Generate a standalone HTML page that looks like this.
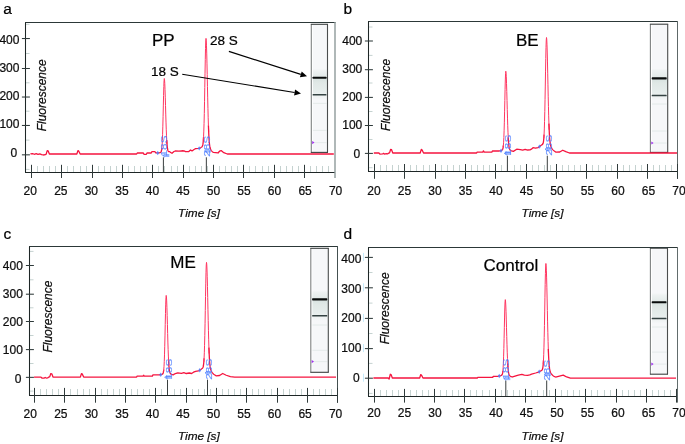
<!DOCTYPE html>
<html><head><meta charset="utf-8"><style>
html,body{margin:0;padding:0;background:#fff;}
svg{display:block;will-change:transform;}
text{font-family:"Liberation Sans", sans-serif;}
.k{stroke:#000;stroke-width:0.22px;}
</style></head><body>
<svg width="685" height="444" viewBox="0 0 685 444">
<text x="3.3" y="14.2" font-size="15.5" fill="#000" class="k">a</text>
<defs><linearGradient id="ga" x1="0" y1="24.3" x2="0" y2="152.4" gradientUnits="userSpaceOnUse"><stop offset="0" stop-color="#f6f7f9"/><stop offset="0.3474" stop-color="#f6f7f9"/><stop offset="0.3630" stop-color="#eef2f2"/><stop offset="0.4020" stop-color="#e4ebea"/><stop offset="0.4294" stop-color="#d9e3e1"/><stop offset="0.4567" stop-color="#e0e8e6"/><stop offset="0.5269" stop-color="#e6edec"/><stop offset="0.5582" stop-color="#edf1f1"/><stop offset="0.5894" stop-color="#f6f7f9"/><stop offset="1" stop-color="#f6f7f9"/></linearGradient></defs>
<rect x="311.3" y="24.3" width="16.19999999999999" height="128.1" fill="url(#ga)"/>
<line x1="312.3" x2="326.5" y1="103.4" y2="103.4" stroke="#dfe7e6" stroke-width="0.8"/>
<line x1="312.3" x2="326.5" y1="130.4" y2="130.4" stroke="#dfe7e6" stroke-width="0.8"/>
<line x1="312.3" x2="326.5" y1="142.6" y2="142.6" stroke="#dfe7e6" stroke-width="0.8"/>
<line x1="312.40000000000003" x2="312.40000000000003" y1="24.3" y2="152.4" stroke="#ffffff" stroke-width="1"/>
<rect x="312.6" y="76.75" width="13.899999999999988" height="2.1" rx="0.6" fill="#080b0b"/>
<rect x="312.6" y="94.05" width="13.899999999999988" height="1.5" rx="0.5" fill="#344242"/>
<line x1="311.3" x2="311.3" y1="24.3" y2="152.4" stroke="#7f8282" stroke-width="1.1"/>
<line x1="327.5" x2="327.5" y1="24.3" y2="152.4" stroke="#4a4d4d" stroke-width="1.1"/>
<line x1="310.8" x2="328.0" y1="24.3" y2="24.3" stroke="#3c4040" stroke-width="1.1"/>
<line x1="310.8" x2="328.0" y1="152.4" y2="152.4" stroke="#3c4040" stroke-width="1.1"/>
<path d="M312.2,141.0 L314.5,142.6 L312.2,144.2 Z" fill="#a030f0"/>
<line x1="26.0" x2="29.5" y1="169.40" y2="169.40" stroke="#c5d2d0" stroke-width="1"/>
<line x1="26.0" x2="29.5" y1="140.10" y2="140.10" stroke="#c5d2d0" stroke-width="1"/>
<line x1="26.0" x2="29.5" y1="111.20" y2="111.20" stroke="#c5d2d0" stroke-width="1"/>
<line x1="26.0" x2="29.5" y1="82.80" y2="82.80" stroke="#c5d2d0" stroke-width="1"/>
<line x1="26.0" x2="29.5" y1="53.50" y2="53.50" stroke="#c5d2d0" stroke-width="1"/>
<line x1="26.0" x2="29.5" y1="24.30" y2="24.30" stroke="#c5d2d0" stroke-width="1"/>
<line x1="37.50" x2="37.50" y1="166.0" y2="172.5" stroke="#c5d2d0" stroke-width="1"/>
<line x1="43.50" x2="43.50" y1="166.0" y2="172.5" stroke="#c5d2d0" stroke-width="1"/>
<line x1="49.50" x2="49.50" y1="166.0" y2="172.5" stroke="#c5d2d0" stroke-width="1"/>
<line x1="55.50" x2="55.50" y1="166.0" y2="172.5" stroke="#c5d2d0" stroke-width="1"/>
<line x1="67.50" x2="67.50" y1="166.0" y2="172.5" stroke="#c5d2d0" stroke-width="1"/>
<line x1="73.50" x2="73.50" y1="166.0" y2="172.5" stroke="#c5d2d0" stroke-width="1"/>
<line x1="80.50" x2="80.50" y1="166.0" y2="172.5" stroke="#c5d2d0" stroke-width="1"/>
<line x1="86.50" x2="86.50" y1="166.0" y2="172.5" stroke="#c5d2d0" stroke-width="1"/>
<line x1="98.50" x2="98.50" y1="166.0" y2="172.5" stroke="#c5d2d0" stroke-width="1"/>
<line x1="104.50" x2="104.50" y1="166.0" y2="172.5" stroke="#c5d2d0" stroke-width="1"/>
<line x1="110.50" x2="110.50" y1="166.0" y2="172.5" stroke="#c5d2d0" stroke-width="1"/>
<line x1="116.50" x2="116.50" y1="166.0" y2="172.5" stroke="#c5d2d0" stroke-width="1"/>
<line x1="128.50" x2="128.50" y1="166.0" y2="172.5" stroke="#c5d2d0" stroke-width="1"/>
<line x1="134.50" x2="134.50" y1="166.0" y2="172.5" stroke="#c5d2d0" stroke-width="1"/>
<line x1="140.50" x2="140.50" y1="166.0" y2="172.5" stroke="#c5d2d0" stroke-width="1"/>
<line x1="146.50" x2="146.50" y1="166.0" y2="172.5" stroke="#c5d2d0" stroke-width="1"/>
<line x1="158.50" x2="158.50" y1="166.0" y2="172.5" stroke="#c5d2d0" stroke-width="1"/>
<line x1="164.50" x2="164.50" y1="166.0" y2="172.5" stroke="#c5d2d0" stroke-width="1"/>
<line x1="171.50" x2="171.50" y1="166.0" y2="172.5" stroke="#c5d2d0" stroke-width="1"/>
<line x1="177.50" x2="177.50" y1="166.0" y2="172.5" stroke="#c5d2d0" stroke-width="1"/>
<line x1="189.50" x2="189.50" y1="166.0" y2="172.5" stroke="#c5d2d0" stroke-width="1"/>
<line x1="195.50" x2="195.50" y1="166.0" y2="172.5" stroke="#c5d2d0" stroke-width="1"/>
<line x1="201.50" x2="201.50" y1="166.0" y2="172.5" stroke="#c5d2d0" stroke-width="1"/>
<line x1="207.50" x2="207.50" y1="166.0" y2="172.5" stroke="#c5d2d0" stroke-width="1"/>
<line x1="219.50" x2="219.50" y1="166.0" y2="172.5" stroke="#c5d2d0" stroke-width="1"/>
<line x1="225.50" x2="225.50" y1="166.0" y2="172.5" stroke="#c5d2d0" stroke-width="1"/>
<line x1="231.50" x2="231.50" y1="166.0" y2="172.5" stroke="#c5d2d0" stroke-width="1"/>
<line x1="237.50" x2="237.50" y1="166.0" y2="172.5" stroke="#c5d2d0" stroke-width="1"/>
<line x1="249.50" x2="249.50" y1="166.0" y2="172.5" stroke="#c5d2d0" stroke-width="1"/>
<line x1="255.50" x2="255.50" y1="166.0" y2="172.5" stroke="#c5d2d0" stroke-width="1"/>
<line x1="262.50" x2="262.50" y1="166.0" y2="172.5" stroke="#c5d2d0" stroke-width="1"/>
<line x1="268.50" x2="268.50" y1="166.0" y2="172.5" stroke="#c5d2d0" stroke-width="1"/>
<line x1="280.50" x2="280.50" y1="166.0" y2="172.5" stroke="#c5d2d0" stroke-width="1"/>
<line x1="286.50" x2="286.50" y1="166.0" y2="172.5" stroke="#c5d2d0" stroke-width="1"/>
<line x1="292.50" x2="292.50" y1="166.0" y2="172.5" stroke="#c5d2d0" stroke-width="1"/>
<line x1="298.50" x2="298.50" y1="166.0" y2="172.5" stroke="#c5d2d0" stroke-width="1"/>
<line x1="310.50" x2="310.50" y1="166.0" y2="172.5" stroke="#c5d2d0" stroke-width="1"/>
<line x1="316.50" x2="316.50" y1="166.0" y2="172.5" stroke="#c5d2d0" stroke-width="1"/>
<line x1="322.50" x2="322.50" y1="166.0" y2="172.5" stroke="#c5d2d0" stroke-width="1"/>
<line x1="328.50" x2="328.50" y1="166.0" y2="172.5" stroke="#c5d2d0" stroke-width="1"/>
<path d="M30.39,153.97 L32.51,153.54 L34.34,154.26 L36.16,153.68 L37.98,154.41 L39.80,153.83 L41.62,154.55 L43.44,154.99 L45.27,154.70 L46.18,154.12 L47.21,150.63 L48.18,150.92 L49.39,154.00 L76.84,154.00 L77.93,150.63 L78.66,150.92 L80.18,154.00 L136.65,154.00 L137.26,152.98 L143.33,152.98 L143.94,154.29 L146.36,154.29 L146.97,152.98 L151.22,152.98 L151.83,151.68 L154.87,151.68 L155.78,152.95 L157.01,152.94 L157.26,152.94 L157.50,152.93 L157.74,152.93 L157.99,152.92 L158.23,152.90 L158.47,152.89 L158.71,152.87 L158.81,152.86 L158.96,152.84 L159.20,152.81 L159.44,152.77 L159.69,152.72 L159.93,152.66 L160.17,152.59 L160.42,152.49 L160.63,152.36 L160.66,152.34 L160.90,152.10 L161.14,151.71 L161.39,151.04 L161.63,149.89 L161.87,147.99" fill="none" stroke="#f5143f" stroke-width="1.3" stroke-linejoin="round"/>
<path d="M161.63,149.89 L161.87,147.99 L162.12,144.98 L162.36,140.51 L162.60,134.28 L162.84,126.19 L163.09,116.51 L163.33,105.92 L163.57,95.53 L163.82,86.67 L164.06,80.67 L164.30,78.49 L164.54,79.77 L164.79,83.64 L165.03,89.66 L165.27,97.22 L165.52,105.59 L165.76,114.07 L166.00,122.09 L166.24,129.20 L166.49,135.19 L166.73,139.99 L166.97,143.65" fill="none" stroke="#ff3560" stroke-width="1.0" stroke-linejoin="round"/>
<path d="M166.73,139.99 L166.97,143.65 L167.22,146.34 L167.46,148.24 L167.70,149.55 L167.94,150.43 L168.19,151.01 L168.43,151.40 L168.53,151.51 L168.67,151.58 L168.92,151.63 L169.16,151.63 L169.40,151.60 L169.62,151.55 L169.64,151.57 L169.89,151.79 L170.13,151.99 L170.37,152.18 L170.62,152.36 L170.86,152.53 L171.10,152.70 L171.34,152.86 L171.59,153.01 L171.99,153.26 L173.99,151.50 L175.21,150.98 L178.85,151.21 L181.89,150.77 L184.38,150.98 L185.53,151.68 L188.56,151.68 L190.51,149.99 L192.03,150.92 L194.03,149.46 L195.61,148.67 L198.71,148.47 L198.95,148.43 L199.20,148.37 L199.44,148.30 L199.68,148.23 L199.68,148.22 L199.93,148.12 L200.17,148.00 L200.41,147.87 L200.65,147.72 L200.90,147.55 L201.14,147.36 L201.32,147.20 L201.38,147.17 L201.63,147.04 L201.87,146.87 L202.11,146.61 L202.35,146.23 L202.60,145.62 L202.84,144.63 L203.08,143.04 L203.33,140.51 L203.57,136.67" fill="none" stroke="#f5143f" stroke-width="1.3" stroke-linejoin="round"/>
<path d="M203.33,140.51 L203.57,136.67 L203.81,131.09 L204.05,123.41 L204.30,113.45 L204.54,101.32 L204.78,87.58 L205.03,73.24 L205.27,59.67 L205.51,48.44 L205.75,41.01 L206.00,38.39 L206.24,40.11 L206.48,45.18 L206.73,53.10 L206.97,63.17 L207.21,74.54 L207.45,86.36 L207.70,97.87 L207.94,108.48 L208.18,117.78 L208.43,125.58 L208.67,131.89" fill="none" stroke="#ff3560" stroke-width="1.0" stroke-linejoin="round"/>
<path d="M208.43,125.58 L208.67,131.89 L208.91,136.80 L209.15,140.52 L209.40,143.26 L209.64,145.27 L209.88,146.72 L210.13,147.79 L210.37,148.61 L210.61,149.25 L210.86,149.77 L211.03,150.11 L211.10,150.21 L211.34,150.56 L211.58,150.86 L211.83,151.14 L212.07,151.40 L212.31,151.63 L212.56,151.85 L212.80,152.04 L212.97,152.17 L213.04,152.21 L213.28,152.33 L218.01,152.98 L219.53,151.21 L221.17,150.60 L223.78,152.66 L227.30,154.00 L333.81,154.00" fill="none" stroke="#f5143f" stroke-width="1.3" stroke-linejoin="round"/>
<line x1="163.40" x2="163.40" y1="157.30" y2="172.5" stroke="#3a3f3f" stroke-width="1"/>
<line x1="206.35" x2="206.35" y1="157.30" y2="172.5" stroke="#3a3f3f" stroke-width="1"/>
<text transform="translate(167.10,146.00) rotate(-90) scale(1.36,1)" font-size="8.7" text-anchor="middle" fill="#4a7cff" stroke="#4a7cff" stroke-width="0.2" fill-opacity="0.8" stroke-opacity="0.5">18S</text>
<path d="M157.70,150.73 l1.5,2.2 l-1.5,2.2 l-1.5,-2.2 z" fill="#4a7cff" fill-opacity="0.8"/>
<path d="M162.80,155.53 l2.2,-1.8 m-2.2,1.8 l2.2,1.8 m-2.2,-1.8 l6.5,0 m-5,-1 l5,0 m-5,2 l5,0" fill="none" stroke="#4a7cff" stroke-width="0.8" stroke-opacity="0.75"/>
<text transform="translate(209.70,146.35) rotate(-90) scale(1.36,1)" font-size="8.7" text-anchor="middle" fill="#4a7cff" stroke="#4a7cff" stroke-width="0.2" fill-opacity="0.8" stroke-opacity="0.5">28S</text>
<path d="M199.20,146.17 l1.5,2.2 l-1.5,2.2 l-1.5,-2.2 z" fill="#4a7cff" fill-opacity="0.8"/>
<path d="M204.50,150.97 l2.2,-1.8 m-2.2,1.8 l2.2,1.8 m-2.2,-1.8 l6.5,0 m-5,-1 l5,0 m-5,2 l5,0" fill="none" stroke="#4a7cff" stroke-width="0.8" stroke-opacity="0.75"/>
<path d="M25.0,22.5 L335.5,22.5" stroke="#2c3838" stroke-width="1.05"/>
<path d="M25.5,22.5 L25.5,172.5 L335.0,172.5" fill="none" stroke="#1e2626" stroke-width="1.05"/>
<path d="M335.0,22.0 L335.0,178.0" stroke="#8e9a9a" stroke-width="1.4"/>
<line x1="21.9" x2="29.9" y1="154.83" y2="154.83" stroke="#2f3a3a" stroke-width="1.05"/>
<text x="17.30" y="157.29" font-size="12" text-anchor="end" fill="#111" class="k">0</text>
<line x1="21.9" x2="29.9" y1="125.46" y2="125.46" stroke="#2f3a3a" stroke-width="1.05"/>
<text x="19.40" y="128.14" font-size="12" text-anchor="end" fill="#111" class="k">100</text>
<line x1="21.9" x2="29.9" y1="97.03" y2="97.03" stroke="#2f3a3a" stroke-width="1.05"/>
<text x="19.40" y="99.89" font-size="12" text-anchor="end" fill="#111" class="k">200</text>
<line x1="21.9" x2="29.9" y1="68.50" y2="68.50" stroke="#2f3a3a" stroke-width="1.05"/>
<text x="19.40" y="71.69" font-size="12" text-anchor="end" fill="#111" class="k">300</text>
<line x1="21.9" x2="29.9" y1="38.54" y2="38.54" stroke="#2f3a3a" stroke-width="1.05"/>
<text x="19.40" y="43.74" font-size="12" text-anchor="end" fill="#111" class="k">400</text>
<line x1="31.50" x2="31.50" y1="164.8" y2="178.0" stroke="#2f3a3a" stroke-width="1.05"/>
<text x="30.30" y="195.10" font-size="12" text-anchor="middle" fill="#111" class="k">20</text>
<line x1="61.50" x2="61.50" y1="164.8" y2="178.0" stroke="#2f3a3a" stroke-width="1.05"/>
<text x="60.83" y="195.10" font-size="12" text-anchor="middle" fill="#111" class="k">25</text>
<line x1="92.50" x2="92.50" y1="164.8" y2="178.0" stroke="#2f3a3a" stroke-width="1.05"/>
<text x="91.36" y="195.10" font-size="12" text-anchor="middle" fill="#111" class="k">30</text>
<line x1="122.50" x2="122.50" y1="164.8" y2="178.0" stroke="#2f3a3a" stroke-width="1.05"/>
<text x="121.89" y="195.10" font-size="12" text-anchor="middle" fill="#111" class="k">35</text>
<line x1="152.50" x2="152.50" y1="164.8" y2="178.0" stroke="#2f3a3a" stroke-width="1.05"/>
<text x="152.42" y="195.10" font-size="12" text-anchor="middle" fill="#111" class="k">40</text>
<line x1="183.50" x2="183.50" y1="164.8" y2="178.0" stroke="#2f3a3a" stroke-width="1.05"/>
<text x="182.95" y="195.10" font-size="12" text-anchor="middle" fill="#111" class="k">45</text>
<line x1="213.50" x2="213.50" y1="164.8" y2="178.0" stroke="#2f3a3a" stroke-width="1.05"/>
<text x="213.48" y="195.10" font-size="12" text-anchor="middle" fill="#111" class="k">50</text>
<line x1="243.50" x2="243.50" y1="164.8" y2="178.0" stroke="#2f3a3a" stroke-width="1.05"/>
<text x="244.01" y="195.10" font-size="12" text-anchor="middle" fill="#111" class="k">55</text>
<line x1="274.50" x2="274.50" y1="164.8" y2="178.0" stroke="#2f3a3a" stroke-width="1.05"/>
<text x="274.54" y="195.10" font-size="12" text-anchor="middle" fill="#111" class="k">60</text>
<line x1="304.50" x2="304.50" y1="164.8" y2="178.0" stroke="#2f3a3a" stroke-width="1.05"/>
<text x="305.07" y="195.10" font-size="12" text-anchor="middle" fill="#111" class="k">65</text>
<text x="335.60" y="195.10" font-size="12" text-anchor="middle" fill="#111" class="k">70</text>
<text x="199.00" y="216.80" font-size="11.8" font-style="italic" text-anchor="middle" fill="#111" class="k">Time [s]</text>
<text transform="translate(46.10,95.30) rotate(-90)" font-size="12.0" font-style="italic" text-anchor="middle" fill="#111" class="k">Fluorescence</text>
<text x="152.0" y="45.6" font-size="17" fill="#000" class="k">PP</text>
<text x="343.5" y="14.2" font-size="15.5" fill="#000" class="k">b</text>
<defs><linearGradient id="gb" x1="0" y1="24.2" x2="0" y2="152.4" gradientUnits="userSpaceOnUse"><stop offset="0" stop-color="#f6f7f9"/><stop offset="0.3456" stop-color="#f6f7f9"/><stop offset="0.3612" stop-color="#eef2f2"/><stop offset="0.4072" stop-color="#e4ebea"/><stop offset="0.4345" stop-color="#d9e3e1"/><stop offset="0.4618" stop-color="#e0e8e6"/><stop offset="0.5328" stop-color="#e6edec"/><stop offset="0.5640" stop-color="#edf1f1"/><stop offset="0.5952" stop-color="#f6f7f9"/><stop offset="1" stop-color="#f6f7f9"/></linearGradient></defs>
<rect x="650.4" y="24.2" width="17.300000000000068" height="128.20000000000002" fill="url(#gb)"/>
<line x1="651.4" x2="666.7" y1="104" y2="104" stroke="#dfe7e6" stroke-width="0.8"/>
<line x1="651.4" x2="666.7" y1="131" y2="131" stroke="#dfe7e6" stroke-width="0.8"/>
<line x1="651.4" x2="666.7" y1="143" y2="143" stroke="#dfe7e6" stroke-width="0.8"/>
<line x1="651.5" x2="651.5" y1="24.2" y2="152.4" stroke="#ffffff" stroke-width="1"/>
<rect x="651.6999999999999" y="77.35000000000001" width="15.000000000000068" height="2.1" rx="0.6" fill="#080b0b"/>
<rect x="651.6999999999999" y="94.75" width="15.000000000000068" height="1.5" rx="0.5" fill="#344242"/>
<line x1="650.4" x2="650.4" y1="24.2" y2="152.4" stroke="#7f8282" stroke-width="1.1"/>
<line x1="667.7" x2="667.7" y1="24.2" y2="152.4" stroke="#4a4d4d" stroke-width="1.1"/>
<line x1="649.9" x2="668.2" y1="24.2" y2="24.2" stroke="#3c4040" stroke-width="1.1"/>
<line x1="649.9" x2="668.2" y1="152.4" y2="152.4" stroke="#3c4040" stroke-width="1.1"/>
<path d="M651.3,141.4 L653.6,143 L651.3,144.6 Z" fill="#a030f0"/>
<line x1="369.0" x2="372.5" y1="167.70" y2="167.70" stroke="#c5d2d0" stroke-width="1"/>
<line x1="369.0" x2="372.5" y1="139.50" y2="139.50" stroke="#c5d2d0" stroke-width="1"/>
<line x1="369.0" x2="372.5" y1="111.50" y2="111.50" stroke="#c5d2d0" stroke-width="1"/>
<line x1="369.0" x2="372.5" y1="83.00" y2="83.00" stroke="#c5d2d0" stroke-width="1"/>
<line x1="369.0" x2="372.5" y1="55.40" y2="55.40" stroke="#c5d2d0" stroke-width="1"/>
<line x1="369.0" x2="372.5" y1="27.00" y2="27.00" stroke="#c5d2d0" stroke-width="1"/>
<line x1="380.50" x2="380.50" y1="165.0" y2="171.5" stroke="#c5d2d0" stroke-width="1"/>
<line x1="386.50" x2="386.50" y1="165.0" y2="171.5" stroke="#c5d2d0" stroke-width="1"/>
<line x1="392.50" x2="392.50" y1="165.0" y2="171.5" stroke="#c5d2d0" stroke-width="1"/>
<line x1="398.50" x2="398.50" y1="165.0" y2="171.5" stroke="#c5d2d0" stroke-width="1"/>
<line x1="410.50" x2="410.50" y1="165.0" y2="171.5" stroke="#c5d2d0" stroke-width="1"/>
<line x1="416.50" x2="416.50" y1="165.0" y2="171.5" stroke="#c5d2d0" stroke-width="1"/>
<line x1="423.50" x2="423.50" y1="165.0" y2="171.5" stroke="#c5d2d0" stroke-width="1"/>
<line x1="429.50" x2="429.50" y1="165.0" y2="171.5" stroke="#c5d2d0" stroke-width="1"/>
<line x1="441.50" x2="441.50" y1="165.0" y2="171.5" stroke="#c5d2d0" stroke-width="1"/>
<line x1="447.50" x2="447.50" y1="165.0" y2="171.5" stroke="#c5d2d0" stroke-width="1"/>
<line x1="453.50" x2="453.50" y1="165.0" y2="171.5" stroke="#c5d2d0" stroke-width="1"/>
<line x1="459.50" x2="459.50" y1="165.0" y2="171.5" stroke="#c5d2d0" stroke-width="1"/>
<line x1="471.50" x2="471.50" y1="165.0" y2="171.5" stroke="#c5d2d0" stroke-width="1"/>
<line x1="477.50" x2="477.50" y1="165.0" y2="171.5" stroke="#c5d2d0" stroke-width="1"/>
<line x1="483.50" x2="483.50" y1="165.0" y2="171.5" stroke="#c5d2d0" stroke-width="1"/>
<line x1="489.50" x2="489.50" y1="165.0" y2="171.5" stroke="#c5d2d0" stroke-width="1"/>
<line x1="501.50" x2="501.50" y1="165.0" y2="171.5" stroke="#c5d2d0" stroke-width="1"/>
<line x1="507.50" x2="507.50" y1="165.0" y2="171.5" stroke="#c5d2d0" stroke-width="1"/>
<line x1="514.50" x2="514.50" y1="165.0" y2="171.5" stroke="#c5d2d0" stroke-width="1"/>
<line x1="520.50" x2="520.50" y1="165.0" y2="171.5" stroke="#c5d2d0" stroke-width="1"/>
<line x1="532.50" x2="532.50" y1="165.0" y2="171.5" stroke="#c5d2d0" stroke-width="1"/>
<line x1="538.50" x2="538.50" y1="165.0" y2="171.5" stroke="#c5d2d0" stroke-width="1"/>
<line x1="544.50" x2="544.50" y1="165.0" y2="171.5" stroke="#c5d2d0" stroke-width="1"/>
<line x1="550.50" x2="550.50" y1="165.0" y2="171.5" stroke="#c5d2d0" stroke-width="1"/>
<line x1="562.50" x2="562.50" y1="165.0" y2="171.5" stroke="#c5d2d0" stroke-width="1"/>
<line x1="568.50" x2="568.50" y1="165.0" y2="171.5" stroke="#c5d2d0" stroke-width="1"/>
<line x1="574.50" x2="574.50" y1="165.0" y2="171.5" stroke="#c5d2d0" stroke-width="1"/>
<line x1="580.50" x2="580.50" y1="165.0" y2="171.5" stroke="#c5d2d0" stroke-width="1"/>
<line x1="592.50" x2="592.50" y1="165.0" y2="171.5" stroke="#c5d2d0" stroke-width="1"/>
<line x1="598.50" x2="598.50" y1="165.0" y2="171.5" stroke="#c5d2d0" stroke-width="1"/>
<line x1="605.50" x2="605.50" y1="165.0" y2="171.5" stroke="#c5d2d0" stroke-width="1"/>
<line x1="611.50" x2="611.50" y1="165.0" y2="171.5" stroke="#c5d2d0" stroke-width="1"/>
<line x1="623.50" x2="623.50" y1="165.0" y2="171.5" stroke="#c5d2d0" stroke-width="1"/>
<line x1="629.50" x2="629.50" y1="165.0" y2="171.5" stroke="#c5d2d0" stroke-width="1"/>
<line x1="635.50" x2="635.50" y1="165.0" y2="171.5" stroke="#c5d2d0" stroke-width="1"/>
<line x1="641.50" x2="641.50" y1="165.0" y2="171.5" stroke="#c5d2d0" stroke-width="1"/>
<line x1="653.50" x2="653.50" y1="165.0" y2="171.5" stroke="#c5d2d0" stroke-width="1"/>
<line x1="659.50" x2="659.50" y1="165.0" y2="171.5" stroke="#c5d2d0" stroke-width="1"/>
<line x1="665.50" x2="665.50" y1="165.0" y2="171.5" stroke="#c5d2d0" stroke-width="1"/>
<line x1="671.50" x2="671.50" y1="165.0" y2="171.5" stroke="#c5d2d0" stroke-width="1"/>
<path d="M373.79,153.00 L378.95,153.00 L379.86,154.09 L382.59,153.95 L383.50,153.39 L384.41,154.09 L386.23,153.67 L387.44,153.95 L388.65,153.11 L389.56,152.83 L390.60,149.46 L391.57,149.74 L392.78,153.00 L420.20,153.00 L421.29,149.46 L422.02,149.74 L423.54,153.00 L476.63,153.00 L476.99,152.21 L482.69,152.21 L483.42,150.92 L484.21,152.21 L491.79,152.21 L492.40,151.01 L498.52,150.99 L498.76,150.99 L499.01,150.98 L499.25,150.98 L499.49,150.96 L499.73,150.95 L499.98,150.93 L500.22,150.91 L500.46,150.88 L500.71,150.85 L500.77,150.84 L500.95,150.75 L501.19,150.62 L501.43,150.48 L501.68,150.33 L501.92,150.14 L502.11,149.97 L502.16,149.93 L502.40,149.71 L502.65,149.31 L502.89,148.61 L503.13,147.41 L503.38,145.40" fill="none" stroke="#f5143f" stroke-width="1.3" stroke-linejoin="round"/>
<path d="M503.13,147.41 L503.38,145.40 L503.62,142.21 L503.86,137.45 L504.10,130.80 L504.35,122.17 L504.59,111.83 L504.83,100.51 L505.07,89.41 L505.32,79.95 L505.56,73.55 L505.80,71.24 L506.04,72.64 L506.29,76.81 L506.53,83.28 L506.77,91.40 L507.02,100.39 L507.26,109.50 L507.50,118.11 L507.74,125.76 L507.99,132.19 L508.23,137.35 L508.47,141.30" fill="none" stroke="#ff3560" stroke-width="1.0" stroke-linejoin="round"/>
<path d="M508.23,137.35 L508.47,141.30 L508.71,144.21 L508.96,146.28 L509.20,147.70 L509.44,148.66 L509.68,149.31 L509.93,149.75 L510.17,150.07 L510.41,150.29 L510.66,150.47 L510.90,150.61 L511.14,150.73 L511.21,150.76 L511.38,150.82 L511.63,150.89 L511.87,150.95 L512.11,151.00 L512.18,151.02 L512.35,151.08 L512.60,151.16 L512.84,151.24 L513.08,151.31 L513.33,151.37 L516.73,149.21 L520.31,149.60 L522.73,150.16 L525.16,149.32 L527.59,150.02 L530.02,149.91 L531.84,148.90 L532.99,147.70 L535.48,148.20 L538.02,147.63 L539.22,146.79 L539.46,146.60 L539.70,146.40 L539.95,146.19 L540.19,145.97 L540.21,145.95 L540.43,145.81 L540.67,145.65 L540.92,145.48 L541.16,145.29 L541.40,145.07 L541.54,144.95 L541.65,144.91 L541.89,144.81 L542.13,144.69 L542.37,144.51 L542.62,144.26 L542.86,143.89 L543.10,143.29 L543.34,142.31 L543.59,140.74 L543.83,138.25 L544.07,134.46" fill="none" stroke="#f5143f" stroke-width="1.3" stroke-linejoin="round"/>
<path d="M543.83,138.25 L544.07,134.46 L544.32,128.96 L544.56,121.39 L544.80,111.55 L545.04,99.59 L545.29,86.04 L545.53,71.89 L545.77,58.50 L546.01,47.43 L546.26,40.09 L546.50,37.51 L546.74,39.21 L546.98,44.21 L547.23,52.03 L547.47,61.96 L547.71,73.18 L547.96,84.85 L548.20,96.20 L548.44,106.66 L548.68,115.84 L548.93,123.55 L549.17,129.77" fill="none" stroke="#ff3560" stroke-width="1.0" stroke-linejoin="round"/>
<path d="M548.93,123.55 L549.17,129.77 L549.41,134.61 L549.65,138.28 L549.90,140.99 L550.14,142.97 L550.38,144.41 L550.62,145.47 L550.87,146.27 L551.11,146.90 L551.35,147.42 L551.60,147.87 L551.84,148.27 L552.08,148.64 L552.32,148.98 L552.57,149.29 L552.81,149.59 L553.05,149.86 L553.29,150.11 L553.54,150.35 L553.78,150.57 L554.28,150.98 L555.98,152.19 L559.74,151.99 L562.72,150.22 L565.81,151.71 L569.39,153.00 L677.00,153.00" fill="none" stroke="#f5143f" stroke-width="1.3" stroke-linejoin="round"/>
<line x1="507.40" x2="507.40" y1="155.70" y2="171.5" stroke="#3a3f3f" stroke-width="1"/>
<line x1="547.30" x2="547.30" y1="155.70" y2="171.5" stroke="#3a3f3f" stroke-width="1"/>
<text transform="translate(510.80,145.25) rotate(-90) scale(1.36,1)" font-size="8.7" text-anchor="middle" fill="#4a7cff" stroke="#4a7cff" stroke-width="0.2" fill-opacity="0.8" stroke-opacity="0.5">18S</text>
<path d="M501.00,148.55 l1.5,2.2 l-1.5,2.2 l-1.5,-2.2 z" fill="#4a7cff" fill-opacity="0.8"/>
<path d="M504.30,153.35 l2.2,-1.8 m-2.2,1.8 l2.2,1.8 m-2.2,-1.8 l6.5,0 m-5,-1 l5,0 m-5,2 l5,0" fill="none" stroke="#4a7cff" stroke-width="0.8" stroke-opacity="0.75"/>
<text transform="translate(551.50,145.20) rotate(-90) scale(1.36,1)" font-size="8.7" text-anchor="middle" fill="#4a7cff" stroke="#4a7cff" stroke-width="0.2" fill-opacity="0.8" stroke-opacity="0.5">28S</text>
<path d="M539.50,144.40 l1.5,2.2 l-1.5,2.2 l-1.5,-2.2 z" fill="#4a7cff" fill-opacity="0.8"/>
<path d="M545.00,149.20 l2.2,-1.8 m-2.2,1.8 l2.2,1.8 m-2.2,-1.8 l6.5,0 m-5,-1 l5,0 m-5,2 l5,0" fill="none" stroke="#4a7cff" stroke-width="0.8" stroke-opacity="0.75"/>
<path d="M368.0,21.5 L678.0,21.5" stroke="#2c3838" stroke-width="1.05"/>
<path d="M368.5,21.5 L368.5,171.5 L677.5,171.5" fill="none" stroke="#1e2626" stroke-width="1.05"/>
<path d="M677.5,21.0 L677.5,178.8" stroke="#5e6868" stroke-width="1.05"/>
<line x1="364.9" x2="372.9" y1="153.40" y2="153.40" stroke="#2f3a3a" stroke-width="1.05"/>
<text x="360.20" y="157.84" font-size="12" text-anchor="end" fill="#111" class="k">0</text>
<line x1="364.9" x2="372.9" y1="125.50" y2="125.50" stroke="#2f3a3a" stroke-width="1.05"/>
<text x="362.30" y="128.79" font-size="12" text-anchor="end" fill="#111" class="k">100</text>
<line x1="364.9" x2="372.9" y1="97.40" y2="97.40" stroke="#2f3a3a" stroke-width="1.05"/>
<text x="362.30" y="100.84" font-size="12" text-anchor="end" fill="#111" class="k">200</text>
<line x1="364.9" x2="372.9" y1="69.70" y2="69.70" stroke="#2f3a3a" stroke-width="1.05"/>
<text x="362.30" y="72.99" font-size="12" text-anchor="end" fill="#111" class="k">300</text>
<line x1="364.9" x2="372.9" y1="41.00" y2="41.00" stroke="#2f3a3a" stroke-width="1.05"/>
<text x="362.30" y="44.94" font-size="12" text-anchor="end" fill="#111" class="k">400</text>
<line x1="374.50" x2="374.50" y1="164.0" y2="178.8" stroke="#2f3a3a" stroke-width="1.05"/>
<text x="373.90" y="194.60" font-size="12" text-anchor="middle" fill="#111" class="k">20</text>
<line x1="404.50" x2="404.50" y1="164.0" y2="178.8" stroke="#2f3a3a" stroke-width="1.05"/>
<text x="404.40" y="194.60" font-size="12" text-anchor="middle" fill="#111" class="k">25</text>
<line x1="435.50" x2="435.50" y1="164.0" y2="178.8" stroke="#2f3a3a" stroke-width="1.05"/>
<text x="434.90" y="194.60" font-size="12" text-anchor="middle" fill="#111" class="k">30</text>
<line x1="465.50" x2="465.50" y1="164.0" y2="178.8" stroke="#2f3a3a" stroke-width="1.05"/>
<text x="465.40" y="194.60" font-size="12" text-anchor="middle" fill="#111" class="k">35</text>
<line x1="495.50" x2="495.50" y1="164.0" y2="178.8" stroke="#2f3a3a" stroke-width="1.05"/>
<text x="495.90" y="194.60" font-size="12" text-anchor="middle" fill="#111" class="k">40</text>
<line x1="526.50" x2="526.50" y1="164.0" y2="178.8" stroke="#2f3a3a" stroke-width="1.05"/>
<text x="526.40" y="194.60" font-size="12" text-anchor="middle" fill="#111" class="k">45</text>
<line x1="556.50" x2="556.50" y1="164.0" y2="178.8" stroke="#2f3a3a" stroke-width="1.05"/>
<text x="556.90" y="194.60" font-size="12" text-anchor="middle" fill="#111" class="k">50</text>
<line x1="586.50" x2="586.50" y1="164.0" y2="178.8" stroke="#2f3a3a" stroke-width="1.05"/>
<text x="587.40" y="194.60" font-size="12" text-anchor="middle" fill="#111" class="k">55</text>
<line x1="617.50" x2="617.50" y1="164.0" y2="178.8" stroke="#2f3a3a" stroke-width="1.05"/>
<text x="617.90" y="194.60" font-size="12" text-anchor="middle" fill="#111" class="k">60</text>
<line x1="647.50" x2="647.50" y1="164.0" y2="178.8" stroke="#2f3a3a" stroke-width="1.05"/>
<text x="648.40" y="194.60" font-size="12" text-anchor="middle" fill="#111" class="k">65</text>
<line x1="677.50" x2="677.50" y1="164.0" y2="178.8" stroke="#2f3a3a" stroke-width="1.05"/>
<text x="678.90" y="194.60" font-size="12" text-anchor="middle" fill="#111" class="k">70</text>
<text x="542.50" y="216.60" font-size="11.8" font-style="italic" text-anchor="middle" fill="#111" class="k">Time [s]</text>
<text transform="translate(390.20,94.90) rotate(-90)" font-size="12.0" font-style="italic" text-anchor="middle" fill="#111" class="k">Fluorescence</text>
<text x="516.0" y="46.4" font-size="17" fill="#000" class="k">BE</text>
<text x="3.5" y="239.0" font-size="15.5" fill="#000" class="k">c</text>
<defs><linearGradient id="gc" x1="0" y1="248.3" x2="0" y2="372.3" gradientUnits="userSpaceOnUse"><stop offset="0" stop-color="#f6f7f9"/><stop offset="0.3387" stop-color="#f6f7f9"/><stop offset="0.3548" stop-color="#eef2f2"/><stop offset="0.3960" stop-color="#e4ebea"/><stop offset="0.4242" stop-color="#d9e3e1"/><stop offset="0.4524" stop-color="#e0e8e6"/><stop offset="0.5202" stop-color="#e6edec"/><stop offset="0.5524" stop-color="#edf1f1"/><stop offset="0.5847" stop-color="#f6f7f9"/><stop offset="1" stop-color="#f6f7f9"/></linearGradient></defs>
<rect x="310.8" y="248.3" width="17.5" height="124.0" fill="url(#gc)"/>
<line x1="311.8" x2="327.3" y1="325" y2="325" stroke="#dfe7e6" stroke-width="0.8"/>
<line x1="311.8" x2="327.3" y1="350.3" y2="350.3" stroke="#dfe7e6" stroke-width="0.8"/>
<line x1="311.8" x2="327.3" y1="361.6" y2="361.6" stroke="#dfe7e6" stroke-width="0.8"/>
<line x1="311.90000000000003" x2="311.90000000000003" y1="248.3" y2="372.3" stroke="#ffffff" stroke-width="1"/>
<rect x="312.1" y="298.34999999999997" width="15.2" height="2.1" rx="0.6" fill="#080b0b"/>
<rect x="312.1" y="315.05" width="15.2" height="1.5" rx="0.5" fill="#344242"/>
<line x1="310.8" x2="310.8" y1="248.3" y2="372.3" stroke="#7f8282" stroke-width="1.1"/>
<line x1="328.3" x2="328.3" y1="248.3" y2="372.3" stroke="#4a4d4d" stroke-width="1.1"/>
<line x1="310.3" x2="328.8" y1="248.3" y2="248.3" stroke="#3c4040" stroke-width="1.1"/>
<line x1="310.3" x2="328.8" y1="372.3" y2="372.3" stroke="#3c4040" stroke-width="1.1"/>
<path d="M311.7,360.0 L314.0,361.6 L311.7,363.20000000000005 Z" fill="#a030f0"/>
<line x1="30.0" x2="33.5" y1="391.10" y2="391.10" stroke="#c5d2d0" stroke-width="1"/>
<line x1="30.0" x2="33.5" y1="363.50" y2="363.50" stroke="#c5d2d0" stroke-width="1"/>
<line x1="30.0" x2="33.5" y1="335.50" y2="335.50" stroke="#c5d2d0" stroke-width="1"/>
<line x1="30.0" x2="33.5" y1="307.80" y2="307.80" stroke="#c5d2d0" stroke-width="1"/>
<line x1="30.0" x2="33.5" y1="279.80" y2="279.80" stroke="#c5d2d0" stroke-width="1"/>
<line x1="30.0" x2="33.5" y1="251.40" y2="251.40" stroke="#c5d2d0" stroke-width="1"/>
<line x1="40.50" x2="40.50" y1="389.0" y2="395.5" stroke="#c5d2d0" stroke-width="1"/>
<line x1="46.50" x2="46.50" y1="389.0" y2="395.5" stroke="#c5d2d0" stroke-width="1"/>
<line x1="52.50" x2="52.50" y1="389.0" y2="395.5" stroke="#c5d2d0" stroke-width="1"/>
<line x1="58.50" x2="58.50" y1="389.0" y2="395.5" stroke="#c5d2d0" stroke-width="1"/>
<line x1="70.50" x2="70.50" y1="389.0" y2="395.5" stroke="#c5d2d0" stroke-width="1"/>
<line x1="77.50" x2="77.50" y1="389.0" y2="395.5" stroke="#c5d2d0" stroke-width="1"/>
<line x1="83.50" x2="83.50" y1="389.0" y2="395.5" stroke="#c5d2d0" stroke-width="1"/>
<line x1="89.50" x2="89.50" y1="389.0" y2="395.5" stroke="#c5d2d0" stroke-width="1"/>
<line x1="101.50" x2="101.50" y1="389.0" y2="395.5" stroke="#c5d2d0" stroke-width="1"/>
<line x1="107.50" x2="107.50" y1="389.0" y2="395.5" stroke="#c5d2d0" stroke-width="1"/>
<line x1="113.50" x2="113.50" y1="389.0" y2="395.5" stroke="#c5d2d0" stroke-width="1"/>
<line x1="119.50" x2="119.50" y1="389.0" y2="395.5" stroke="#c5d2d0" stroke-width="1"/>
<line x1="131.50" x2="131.50" y1="389.0" y2="395.5" stroke="#c5d2d0" stroke-width="1"/>
<line x1="137.50" x2="137.50" y1="389.0" y2="395.5" stroke="#c5d2d0" stroke-width="1"/>
<line x1="143.50" x2="143.50" y1="389.0" y2="395.5" stroke="#c5d2d0" stroke-width="1"/>
<line x1="149.50" x2="149.50" y1="389.0" y2="395.5" stroke="#c5d2d0" stroke-width="1"/>
<line x1="161.50" x2="161.50" y1="389.0" y2="395.5" stroke="#c5d2d0" stroke-width="1"/>
<line x1="167.50" x2="167.50" y1="389.0" y2="395.5" stroke="#c5d2d0" stroke-width="1"/>
<line x1="174.50" x2="174.50" y1="389.0" y2="395.5" stroke="#c5d2d0" stroke-width="1"/>
<line x1="180.50" x2="180.50" y1="389.0" y2="395.5" stroke="#c5d2d0" stroke-width="1"/>
<line x1="192.50" x2="192.50" y1="389.0" y2="395.5" stroke="#c5d2d0" stroke-width="1"/>
<line x1="198.50" x2="198.50" y1="389.0" y2="395.5" stroke="#c5d2d0" stroke-width="1"/>
<line x1="204.50" x2="204.50" y1="389.0" y2="395.5" stroke="#c5d2d0" stroke-width="1"/>
<line x1="210.50" x2="210.50" y1="389.0" y2="395.5" stroke="#c5d2d0" stroke-width="1"/>
<line x1="222.50" x2="222.50" y1="389.0" y2="395.5" stroke="#c5d2d0" stroke-width="1"/>
<line x1="228.50" x2="228.50" y1="389.0" y2="395.5" stroke="#c5d2d0" stroke-width="1"/>
<line x1="234.50" x2="234.50" y1="389.0" y2="395.5" stroke="#c5d2d0" stroke-width="1"/>
<line x1="240.50" x2="240.50" y1="389.0" y2="395.5" stroke="#c5d2d0" stroke-width="1"/>
<line x1="252.50" x2="252.50" y1="389.0" y2="395.5" stroke="#c5d2d0" stroke-width="1"/>
<line x1="258.50" x2="258.50" y1="389.0" y2="395.5" stroke="#c5d2d0" stroke-width="1"/>
<line x1="264.50" x2="264.50" y1="389.0" y2="395.5" stroke="#c5d2d0" stroke-width="1"/>
<line x1="271.50" x2="271.50" y1="389.0" y2="395.5" stroke="#c5d2d0" stroke-width="1"/>
<line x1="283.50" x2="283.50" y1="389.0" y2="395.5" stroke="#c5d2d0" stroke-width="1"/>
<line x1="289.50" x2="289.50" y1="389.0" y2="395.5" stroke="#c5d2d0" stroke-width="1"/>
<line x1="295.50" x2="295.50" y1="389.0" y2="395.5" stroke="#c5d2d0" stroke-width="1"/>
<line x1="301.50" x2="301.50" y1="389.0" y2="395.5" stroke="#c5d2d0" stroke-width="1"/>
<line x1="313.50" x2="313.50" y1="389.0" y2="395.5" stroke="#c5d2d0" stroke-width="1"/>
<line x1="319.50" x2="319.50" y1="389.0" y2="395.5" stroke="#c5d2d0" stroke-width="1"/>
<line x1="325.50" x2="325.50" y1="389.0" y2="395.5" stroke="#c5d2d0" stroke-width="1"/>
<line x1="331.50" x2="331.50" y1="389.0" y2="395.5" stroke="#c5d2d0" stroke-width="1"/>
<path d="M34.04,377.09 L41.00,377.09 L41.91,378.04 L44.03,378.18 L45.24,377.48 L46.15,378.04 L47.66,377.90 L48.87,377.06 L49.78,376.64 L50.81,373.57 L51.78,373.85 L52.99,377.09 L80.35,377.09 L81.44,373.57 L82.16,373.85 L83.68,377.09 L136.64,377.09 L137.00,376.11 L143.00,376.11 L143.60,375.25 L144.21,376.11 L152.38,376.11 L152.98,374.80 L158.93,374.79 L159.18,374.78 L159.42,374.78 L159.66,374.77 L159.90,374.76 L160.14,374.74 L160.39,374.73 L160.63,374.70 L160.87,374.68 L160.97,374.66 L161.11,374.63 L161.35,374.56 L161.60,374.49 L161.84,374.40 L162.06,374.30 L162.08,374.29 L162.32,374.19 L162.57,374.04 L162.81,373.80 L163.05,373.39 L163.29,372.69 L163.53,371.47 L163.78,369.46" fill="none" stroke="#f5143f" stroke-width="1.3" stroke-linejoin="round"/>
<path d="M163.53,371.47 L163.78,369.46 L164.02,366.27 L164.26,361.51 L164.50,354.87 L164.74,346.25 L164.99,335.93 L165.23,324.64 L165.47,313.56 L165.71,304.12 L165.96,297.73 L166.20,295.42 L166.44,296.80 L166.68,300.94 L166.92,307.38 L167.17,315.45 L167.41,324.40 L167.65,333.47 L167.89,342.04 L168.13,349.65 L168.38,356.05 L168.62,361.18 L168.86,365.10" fill="none" stroke="#ff3560" stroke-width="1.0" stroke-linejoin="round"/>
<path d="M168.62,361.18 L168.86,365.10 L169.10,367.99 L169.34,370.03 L169.59,371.44 L169.83,372.39 L170.07,373.02 L170.31,373.45 L170.56,373.75 L170.80,373.96 L171.04,374.12 L171.28,374.25 L171.52,374.36 L171.75,374.44 L171.77,374.45 L172.01,374.53 L172.25,374.61 L172.49,374.67 L172.73,374.73 L172.98,374.78 L173.20,374.81 L173.22,374.80 L173.46,374.68 L175.38,373.56 L177.80,372.79 L181.43,373.29 L183.85,372.73 L186.27,373.51 L189.30,373.01 L191.60,373.51 L193.54,372.17 L195.60,371.30 L198.38,370.96 L199.23,370.50 L199.48,370.35 L199.72,370.20 L199.96,370.03 L200.20,369.86 L200.20,369.86 L200.45,369.72 L200.69,369.57 L200.93,369.40 L201.17,369.22 L201.41,369.02 L201.66,368.80 L201.90,368.55 L202.01,368.43 L202.14,368.35 L202.38,368.18 L202.62,367.94 L202.87,367.56 L203.11,366.97 L203.35,366.01 L203.59,364.45 L203.83,361.99 L204.08,358.25" fill="none" stroke="#f5143f" stroke-width="1.3" stroke-linejoin="round"/>
<path d="M203.83,361.99 L204.08,358.25 L204.32,352.81 L204.56,345.32 L204.80,335.60 L205.05,323.77 L205.29,310.37 L205.53,296.38 L205.77,283.15 L206.01,272.20 L206.26,264.95 L206.50,262.39 L206.74,264.08 L206.98,269.02 L207.22,276.75 L207.47,286.57 L207.71,297.66 L207.95,309.20 L208.19,320.42 L208.44,330.77 L208.68,339.84 L208.92,347.46 L209.16,353.61" fill="none" stroke="#ff3560" stroke-width="1.0" stroke-linejoin="round"/>
<path d="M208.92,347.46 L209.16,353.61 L209.40,358.40 L209.65,362.03 L209.89,364.71 L210.13,366.66 L210.37,368.08 L210.61,369.13 L210.86,369.92 L211.10,370.55 L211.34,371.07 L211.58,371.51 L211.82,371.91 L212.07,372.27 L212.31,372.60 L212.55,372.91 L212.79,373.20 L213.04,373.47 L213.28,373.73 L213.52,373.96 L213.76,374.18 L214.12,374.47 L216.00,375.79 L219.57,375.52 L222.71,373.51 L226.22,375.25 L230.40,376.70 L234.70,377.09 L336.00,377.09" fill="none" stroke="#f5143f" stroke-width="1.3" stroke-linejoin="round"/>
<line x1="167.50" x2="167.50" y1="379.70" y2="395.5" stroke="#3a3f3f" stroke-width="1"/>
<line x1="207.50" x2="207.50" y1="379.70" y2="395.5" stroke="#3a3f3f" stroke-width="1"/>
<text transform="translate(171.70,369.25) rotate(-90) scale(1.36,1)" font-size="8.7" text-anchor="middle" fill="#4a7cff" stroke="#4a7cff" stroke-width="0.2" fill-opacity="0.8" stroke-opacity="0.5">18S</text>
<path d="M160.70,372.50 l1.5,2.2 l-1.5,2.2 l-1.5,-2.2 z" fill="#4a7cff" fill-opacity="0.8"/>
<path d="M164.70,377.30 l2.2,-1.8 m-2.2,1.8 l2.2,1.8 m-2.2,-1.8 l6.5,0 m-5,-1 l5,0 m-5,2 l5,0" fill="none" stroke="#4a7cff" stroke-width="0.8" stroke-opacity="0.75"/>
<text transform="translate(211.80,369.25) rotate(-90) scale(1.36,1)" font-size="8.7" text-anchor="middle" fill="#4a7cff" stroke="#4a7cff" stroke-width="0.2" fill-opacity="0.8" stroke-opacity="0.5">28S</text>
<path d="M199.70,368.00 l1.5,2.2 l-1.5,2.2 l-1.5,-2.2 z" fill="#4a7cff" fill-opacity="0.8"/>
<path d="M205.00,372.80 l2.2,-1.8 m-2.2,1.8 l2.2,1.8 m-2.2,-1.8 l6.5,0 m-5,-1 l5,0 m-5,2 l5,0" fill="none" stroke="#4a7cff" stroke-width="0.8" stroke-opacity="0.75"/>
<path d="M29.0,246.5 L338.0,246.5" stroke="#2c3838" stroke-width="1.05"/>
<path d="M29.5,246.5 L29.5,395.5 L337.5,395.5" fill="none" stroke="#1e2626" stroke-width="1.05"/>
<path d="M337.5,246.0 L337.5,402.7" stroke="#445050" stroke-width="1.05"/>
<line x1="25.9" x2="33.9" y1="377.35" y2="377.35" stroke="#2f3a3a" stroke-width="1.05"/>
<text x="21.40" y="382.94" font-size="12" text-anchor="end" fill="#111" class="k">0</text>
<line x1="25.9" x2="33.9" y1="349.60" y2="349.60" stroke="#2f3a3a" stroke-width="1.05"/>
<text x="22.90" y="354.14" font-size="12" text-anchor="end" fill="#111" class="k">100</text>
<line x1="25.9" x2="33.9" y1="321.50" y2="321.50" stroke="#2f3a3a" stroke-width="1.05"/>
<text x="22.90" y="325.84" font-size="12" text-anchor="end" fill="#111" class="k">200</text>
<line x1="25.9" x2="33.9" y1="294.20" y2="294.20" stroke="#2f3a3a" stroke-width="1.05"/>
<text x="22.90" y="297.64" font-size="12" text-anchor="end" fill="#111" class="k">300</text>
<line x1="25.9" x2="33.9" y1="265.50" y2="265.50" stroke="#2f3a3a" stroke-width="1.05"/>
<text x="22.90" y="269.94" font-size="12" text-anchor="end" fill="#111" class="k">400</text>
<line x1="34.50" x2="34.50" y1="387.9" y2="402.7" stroke="#2f3a3a" stroke-width="1.05"/>
<text x="30.30" y="417.50" font-size="12" text-anchor="middle" fill="#111" class="k">20</text>
<line x1="64.50" x2="64.50" y1="387.9" y2="402.7" stroke="#2f3a3a" stroke-width="1.05"/>
<text x="60.83" y="417.50" font-size="12" text-anchor="middle" fill="#111" class="k">25</text>
<line x1="95.50" x2="95.50" y1="387.9" y2="402.7" stroke="#2f3a3a" stroke-width="1.05"/>
<text x="91.36" y="417.50" font-size="12" text-anchor="middle" fill="#111" class="k">30</text>
<line x1="125.50" x2="125.50" y1="387.9" y2="402.7" stroke="#2f3a3a" stroke-width="1.05"/>
<text x="121.89" y="417.50" font-size="12" text-anchor="middle" fill="#111" class="k">35</text>
<line x1="155.50" x2="155.50" y1="387.9" y2="402.7" stroke="#2f3a3a" stroke-width="1.05"/>
<text x="152.42" y="417.50" font-size="12" text-anchor="middle" fill="#111" class="k">40</text>
<line x1="186.50" x2="186.50" y1="387.9" y2="402.7" stroke="#2f3a3a" stroke-width="1.05"/>
<text x="182.95" y="417.50" font-size="12" text-anchor="middle" fill="#111" class="k">45</text>
<line x1="216.50" x2="216.50" y1="387.9" y2="402.7" stroke="#2f3a3a" stroke-width="1.05"/>
<text x="213.48" y="417.50" font-size="12" text-anchor="middle" fill="#111" class="k">50</text>
<line x1="246.50" x2="246.50" y1="387.9" y2="402.7" stroke="#2f3a3a" stroke-width="1.05"/>
<text x="244.01" y="417.50" font-size="12" text-anchor="middle" fill="#111" class="k">55</text>
<line x1="277.50" x2="277.50" y1="387.9" y2="402.7" stroke="#2f3a3a" stroke-width="1.05"/>
<text x="274.54" y="417.50" font-size="12" text-anchor="middle" fill="#111" class="k">60</text>
<line x1="307.50" x2="307.50" y1="387.9" y2="402.7" stroke="#2f3a3a" stroke-width="1.05"/>
<text x="305.07" y="417.50" font-size="12" text-anchor="middle" fill="#111" class="k">65</text>
<line x1="337.50" x2="337.50" y1="387.9" y2="402.7" stroke="#2f3a3a" stroke-width="1.05"/>
<text x="335.60" y="417.50" font-size="12" text-anchor="middle" fill="#111" class="k">70</text>
<text x="198.85" y="439.70" font-size="11.8" font-style="italic" text-anchor="middle" fill="#111" class="k">Time [s]</text>
<text transform="translate(52.10,316.60) rotate(-90)" font-size="12.0" font-style="italic" text-anchor="middle" fill="#111" class="k">Fluorescence</text>
<text x="170.3" y="267.5" font-size="17" fill="#000" class="k">ME</text>
<text x="343.5" y="239.2" font-size="15.5" fill="#000" class="k">d</text>
<defs><linearGradient id="gd" x1="0" y1="248.2" x2="0" y2="374.2" gradientUnits="userSpaceOnUse"><stop offset="0" stop-color="#f6f7f9"/><stop offset="0.3556" stop-color="#f6f7f9"/><stop offset="0.3714" stop-color="#eef2f2"/><stop offset="0.4127" stop-color="#e4ebea"/><stop offset="0.4405" stop-color="#d9e3e1"/><stop offset="0.4683" stop-color="#e0e8e6"/><stop offset="0.5341" stop-color="#e6edec"/><stop offset="0.5659" stop-color="#edf1f1"/><stop offset="0.5976" stop-color="#f6f7f9"/><stop offset="1" stop-color="#f6f7f9"/></linearGradient></defs>
<rect x="650.4" y="248.2" width="17.100000000000023" height="126.0" fill="url(#gd)"/>
<line x1="651.4" x2="666.5" y1="327" y2="327" stroke="#dfe7e6" stroke-width="0.8"/>
<line x1="651.4" x2="666.5" y1="352.1" y2="352.1" stroke="#dfe7e6" stroke-width="0.8"/>
<line x1="651.4" x2="666.5" y1="364.1" y2="364.1" stroke="#dfe7e6" stroke-width="0.8"/>
<line x1="651.5" x2="651.5" y1="248.2" y2="374.2" stroke="#ffffff" stroke-width="1"/>
<rect x="651.6999999999999" y="301.15" width="14.800000000000022" height="2.1" rx="0.6" fill="#080b0b"/>
<rect x="651.6999999999999" y="317.75" width="14.800000000000022" height="1.5" rx="0.5" fill="#344242"/>
<line x1="650.4" x2="650.4" y1="248.2" y2="374.2" stroke="#7f8282" stroke-width="1.1"/>
<line x1="667.5" x2="667.5" y1="248.2" y2="374.2" stroke="#4a4d4d" stroke-width="1.1"/>
<line x1="649.9" x2="668.0" y1="248.2" y2="248.2" stroke="#3c4040" stroke-width="1.1"/>
<line x1="649.9" x2="668.0" y1="374.2" y2="374.2" stroke="#3c4040" stroke-width="1.1"/>
<path d="M651.3,362.5 L653.6,364.1 L651.3,365.70000000000005 Z" fill="#a030f0"/>
<line x1="369.0" x2="372.5" y1="393.40" y2="393.40" stroke="#c5d2d0" stroke-width="1"/>
<line x1="369.0" x2="372.5" y1="363.40" y2="363.40" stroke="#c5d2d0" stroke-width="1"/>
<line x1="369.0" x2="372.5" y1="333.50" y2="333.50" stroke="#c5d2d0" stroke-width="1"/>
<line x1="369.0" x2="372.5" y1="303.10" y2="303.10" stroke="#c5d2d0" stroke-width="1"/>
<line x1="369.0" x2="372.5" y1="272.50" y2="272.50" stroke="#c5d2d0" stroke-width="1"/>
<line x1="380.50" x2="380.50" y1="390.0" y2="396.5" stroke="#c5d2d0" stroke-width="1"/>
<line x1="386.50" x2="386.50" y1="390.0" y2="396.5" stroke="#c5d2d0" stroke-width="1"/>
<line x1="392.50" x2="392.50" y1="390.0" y2="396.5" stroke="#c5d2d0" stroke-width="1"/>
<line x1="398.50" x2="398.50" y1="390.0" y2="396.5" stroke="#c5d2d0" stroke-width="1"/>
<line x1="410.50" x2="410.50" y1="390.0" y2="396.5" stroke="#c5d2d0" stroke-width="1"/>
<line x1="416.50" x2="416.50" y1="390.0" y2="396.5" stroke="#c5d2d0" stroke-width="1"/>
<line x1="422.50" x2="422.50" y1="390.0" y2="396.5" stroke="#c5d2d0" stroke-width="1"/>
<line x1="428.50" x2="428.50" y1="390.0" y2="396.5" stroke="#c5d2d0" stroke-width="1"/>
<line x1="440.50" x2="440.50" y1="390.0" y2="396.5" stroke="#c5d2d0" stroke-width="1"/>
<line x1="446.50" x2="446.50" y1="390.0" y2="396.5" stroke="#c5d2d0" stroke-width="1"/>
<line x1="452.50" x2="452.50" y1="390.0" y2="396.5" stroke="#c5d2d0" stroke-width="1"/>
<line x1="458.50" x2="458.50" y1="390.0" y2="396.5" stroke="#c5d2d0" stroke-width="1"/>
<line x1="470.50" x2="470.50" y1="390.0" y2="396.5" stroke="#c5d2d0" stroke-width="1"/>
<line x1="476.50" x2="476.50" y1="390.0" y2="396.5" stroke="#c5d2d0" stroke-width="1"/>
<line x1="482.50" x2="482.50" y1="390.0" y2="396.5" stroke="#c5d2d0" stroke-width="1"/>
<line x1="489.50" x2="489.50" y1="390.0" y2="396.5" stroke="#c5d2d0" stroke-width="1"/>
<line x1="501.50" x2="501.50" y1="390.0" y2="396.5" stroke="#c5d2d0" stroke-width="1"/>
<line x1="507.50" x2="507.50" y1="390.0" y2="396.5" stroke="#c5d2d0" stroke-width="1"/>
<line x1="513.50" x2="513.50" y1="390.0" y2="396.5" stroke="#c5d2d0" stroke-width="1"/>
<line x1="519.50" x2="519.50" y1="390.0" y2="396.5" stroke="#c5d2d0" stroke-width="1"/>
<line x1="531.50" x2="531.50" y1="390.0" y2="396.5" stroke="#c5d2d0" stroke-width="1"/>
<line x1="537.50" x2="537.50" y1="390.0" y2="396.5" stroke="#c5d2d0" stroke-width="1"/>
<line x1="543.50" x2="543.50" y1="390.0" y2="396.5" stroke="#c5d2d0" stroke-width="1"/>
<line x1="549.50" x2="549.50" y1="390.0" y2="396.5" stroke="#c5d2d0" stroke-width="1"/>
<line x1="561.50" x2="561.50" y1="390.0" y2="396.5" stroke="#c5d2d0" stroke-width="1"/>
<line x1="567.50" x2="567.50" y1="390.0" y2="396.5" stroke="#c5d2d0" stroke-width="1"/>
<line x1="573.50" x2="573.50" y1="390.0" y2="396.5" stroke="#c5d2d0" stroke-width="1"/>
<line x1="579.50" x2="579.50" y1="390.0" y2="396.5" stroke="#c5d2d0" stroke-width="1"/>
<line x1="591.50" x2="591.50" y1="390.0" y2="396.5" stroke="#c5d2d0" stroke-width="1"/>
<line x1="597.50" x2="597.50" y1="390.0" y2="396.5" stroke="#c5d2d0" stroke-width="1"/>
<line x1="604.50" x2="604.50" y1="390.0" y2="396.5" stroke="#c5d2d0" stroke-width="1"/>
<line x1="610.50" x2="610.50" y1="390.0" y2="396.5" stroke="#c5d2d0" stroke-width="1"/>
<line x1="622.50" x2="622.50" y1="390.0" y2="396.5" stroke="#c5d2d0" stroke-width="1"/>
<line x1="628.50" x2="628.50" y1="390.0" y2="396.5" stroke="#c5d2d0" stroke-width="1"/>
<line x1="634.50" x2="634.50" y1="390.0" y2="396.5" stroke="#c5d2d0" stroke-width="1"/>
<line x1="640.50" x2="640.50" y1="390.0" y2="396.5" stroke="#c5d2d0" stroke-width="1"/>
<line x1="652.50" x2="652.50" y1="390.0" y2="396.5" stroke="#c5d2d0" stroke-width="1"/>
<line x1="658.50" x2="658.50" y1="390.0" y2="396.5" stroke="#c5d2d0" stroke-width="1"/>
<line x1="664.50" x2="664.50" y1="390.0" y2="396.5" stroke="#c5d2d0" stroke-width="1"/>
<line x1="670.50" x2="670.50" y1="390.0" y2="396.5" stroke="#c5d2d0" stroke-width="1"/>
<path d="M373.39,378.01 L388.21,378.01 L389.12,379.09 L390.33,374.27 L391.24,374.87 L392.33,378.01 L419.67,378.01 L420.76,374.57 L421.48,375.18 L422.99,378.01 L477.44,378.01 L477.80,377.29 L492.86,377.29 L493.10,376.29 L498.00,376.28 L498.04,376.27 L498.28,376.23 L498.52,376.19 L498.76,376.14 L499.01,376.10 L499.25,376.05 L499.49,375.99 L499.73,375.93 L499.97,375.87 L500.22,375.80 L500.46,375.72 L500.70,375.63 L500.94,375.54 L501.18,375.42 L501.33,375.34 L501.43,375.31 L501.67,375.18 L501.91,374.97 L502.15,374.61 L502.39,373.95 L502.64,372.80 L502.88,370.87" fill="none" stroke="#f5143f" stroke-width="1.3" stroke-linejoin="round"/>
<path d="M502.64,372.80 L502.88,370.87 L503.12,367.82 L503.36,363.24 L503.60,356.86 L503.85,348.56 L504.09,338.62 L504.33,327.74 L504.57,317.06 L504.81,307.97 L505.06,301.82 L505.30,299.62 L505.54,300.97 L505.78,304.99 L506.02,311.23 L506.26,319.05 L506.51,327.72 L506.75,336.50 L506.99,344.79 L507.23,352.16 L507.47,358.37 L507.72,363.34 L507.96,367.15" fill="none" stroke="#ff3560" stroke-width="1.0" stroke-linejoin="round"/>
<path d="M507.72,363.34 L507.96,367.15 L508.20,369.96 L508.44,371.96 L508.68,373.34 L508.93,374.28 L509.17,374.91 L509.41,375.35 L509.65,375.66 L509.89,375.89 L510.14,376.07 L510.38,376.22 L510.62,376.34 L510.86,376.45 L511.01,376.51 L511.10,376.56 L511.35,376.67 L511.59,376.77 L511.83,376.87 L512.07,376.95 L512.22,377.00 L512.31,376.98 L512.56,376.91 L515.85,375.78 L518.33,375.08 L521.90,374.30 L524.32,375.17 L527.52,375.39 L529.76,374.87 L531.57,374.18 L535.63,373.00 L538.64,372.01 L538.71,371.97 L538.88,371.91 L539.12,371.81 L539.37,371.71 L539.61,371.59 L539.85,371.46 L540.09,371.31 L540.33,371.15 L540.57,370.97 L540.65,370.92 L540.82,370.87 L541.06,370.78 L541.30,370.67 L541.54,370.53 L541.78,370.35 L542.03,370.08 L542.27,369.69 L542.51,369.08 L542.75,368.10 L542.99,366.52 L543.24,364.02 L543.48,360.23" fill="none" stroke="#f5143f" stroke-width="1.3" stroke-linejoin="round"/>
<path d="M543.24,364.02 L543.48,360.23 L543.72,354.74 L543.96,347.18 L544.20,337.36 L544.45,325.43 L544.69,311.91 L544.93,297.79 L545.17,284.44 L545.41,273.39 L545.66,266.06 L545.90,263.48 L546.14,265.16 L546.38,270.13 L546.62,277.91 L546.87,287.79 L547.11,298.96 L547.35,310.57 L547.59,321.88 L547.83,332.29 L548.08,341.42 L548.32,349.09 L548.56,355.27" fill="none" stroke="#ff3560" stroke-width="1.0" stroke-linejoin="round"/>
<path d="M548.32,349.09 L548.56,355.27 L548.80,360.09 L549.04,363.73 L549.29,366.42 L549.53,368.38 L549.77,369.80 L550.01,370.84 L550.25,371.62 L550.50,372.24 L550.74,372.75 L550.98,373.18 L551.22,373.57 L551.46,373.92 L551.71,374.24 L551.95,374.54 L552.19,374.82 L552.43,375.08 L552.67,375.32 L552.91,375.54 L553.16,375.75 L553.96,376.33 L555.59,377.02 L559.40,376.08 L563.21,375.08 L566.66,376.98 L570.41,378.10 L676.00,378.10" fill="none" stroke="#f5143f" stroke-width="1.3" stroke-linejoin="round"/>
<line x1="505.80" x2="505.80" y1="380.50" y2="396.5" stroke="#3a3f3f" stroke-width="1"/>
<line x1="546.70" x2="546.70" y1="380.50" y2="396.5" stroke="#3a3f3f" stroke-width="1"/>
<text transform="translate(509.20,369.15) rotate(-90) scale(1.36,1)" font-size="8.7" text-anchor="middle" fill="#4a7cff" stroke="#4a7cff" stroke-width="0.2" fill-opacity="0.8" stroke-opacity="0.5">18S</text>
<path d="M499.30,373.85 l1.5,2.2 l-1.5,2.2 l-1.5,-2.2 z" fill="#4a7cff" fill-opacity="0.8"/>
<path d="M503.80,378.65 l2.2,-1.8 m-2.2,1.8 l2.2,1.8 m-2.2,-1.8 l6.5,0 m-5,-1 l5,0 m-5,2 l5,0" fill="none" stroke="#4a7cff" stroke-width="0.8" stroke-opacity="0.75"/>
<text transform="translate(549.50,370.35) rotate(-90) scale(1.36,1)" font-size="8.7" text-anchor="middle" fill="#4a7cff" stroke="#4a7cff" stroke-width="0.2" fill-opacity="0.8" stroke-opacity="0.5">28S</text>
<path d="M539.20,369.61 l1.5,2.2 l-1.5,2.2 l-1.5,-2.2 z" fill="#4a7cff" fill-opacity="0.8"/>
<path d="M544.40,374.41 l2.2,-1.8 m-2.2,1.8 l2.2,1.8 m-2.2,-1.8 l6.5,0 m-5,-1 l5,0 m-5,2 l5,0" fill="none" stroke="#4a7cff" stroke-width="0.8" stroke-opacity="0.75"/>
<path d="M368.0,247.5 L678.0,247.5" stroke="#2c3838" stroke-width="1.05"/>
<path d="M368.5,247.5 L368.5,396.5 L677.5,396.5" fill="none" stroke="#1e2626" stroke-width="1.05"/>
<path d="M677.5,247.0 L677.5,402.6" stroke="#626c6c" stroke-width="1.05"/>
<line x1="363.5" x2="363.5" y1="373.70" y2="381.70" stroke="#c6ebfb" stroke-width="1"/>
<line x1="364.9" x2="372.9" y1="378.20" y2="378.20" stroke="#2f3a3a" stroke-width="1.05"/>
<text x="359.80" y="382.14" font-size="12" text-anchor="end" fill="#111" class="k">0</text>
<line x1="363.5" x2="363.5" y1="344.10" y2="352.10" stroke="#c6ebfb" stroke-width="1"/>
<line x1="364.9" x2="372.9" y1="348.60" y2="348.60" stroke="#2f3a3a" stroke-width="1.05"/>
<text x="361.40" y="351.79" font-size="12" text-anchor="end" fill="#111" class="k">100</text>
<line x1="363.5" x2="363.5" y1="313.90" y2="321.90" stroke="#c6ebfb" stroke-width="1"/>
<line x1="364.9" x2="372.9" y1="318.40" y2="318.40" stroke="#2f3a3a" stroke-width="1.05"/>
<text x="361.40" y="322.04" font-size="12" text-anchor="end" fill="#111" class="k">200</text>
<line x1="363.5" x2="363.5" y1="283.30" y2="291.30" stroke="#c6ebfb" stroke-width="1"/>
<line x1="364.9" x2="372.9" y1="287.80" y2="287.80" stroke="#2f3a3a" stroke-width="1.05"/>
<text x="361.40" y="292.84" font-size="12" text-anchor="end" fill="#111" class="k">300</text>
<line x1="363.5" x2="363.5" y1="252.90" y2="260.90" stroke="#c6ebfb" stroke-width="1"/>
<line x1="364.9" x2="372.9" y1="257.40" y2="257.40" stroke="#2f3a3a" stroke-width="1.05"/>
<text x="361.40" y="262.94" font-size="12" text-anchor="end" fill="#111" class="k">400</text>
<line x1="374.50" x2="374.50" y1="388.9" y2="402.6" stroke="#2f3a3a" stroke-width="1.05"/>
<text x="373.90" y="417.00" font-size="12" text-anchor="middle" fill="#111" class="k">20</text>
<line x1="404.50" x2="404.50" y1="388.9" y2="402.6" stroke="#2f3a3a" stroke-width="1.05"/>
<text x="404.40" y="417.00" font-size="12" text-anchor="middle" fill="#111" class="k">25</text>
<line x1="434.50" x2="434.50" y1="388.9" y2="402.6" stroke="#2f3a3a" stroke-width="1.05"/>
<text x="434.90" y="417.00" font-size="12" text-anchor="middle" fill="#111" class="k">30</text>
<line x1="464.50" x2="464.50" y1="388.9" y2="402.6" stroke="#2f3a3a" stroke-width="1.05"/>
<text x="465.40" y="417.00" font-size="12" text-anchor="middle" fill="#111" class="k">35</text>
<line x1="495.50" x2="495.50" y1="388.9" y2="402.6" stroke="#2f3a3a" stroke-width="1.05"/>
<text x="495.90" y="417.00" font-size="12" text-anchor="middle" fill="#111" class="k">40</text>
<line x1="525.50" x2="525.50" y1="388.9" y2="402.6" stroke="#2f3a3a" stroke-width="1.05"/>
<text x="526.40" y="417.00" font-size="12" text-anchor="middle" fill="#111" class="k">45</text>
<line x1="555.50" x2="555.50" y1="388.9" y2="402.6" stroke="#2f3a3a" stroke-width="1.05"/>
<text x="556.90" y="417.00" font-size="12" text-anchor="middle" fill="#111" class="k">50</text>
<line x1="585.50" x2="585.50" y1="388.9" y2="402.6" stroke="#2f3a3a" stroke-width="1.05"/>
<text x="587.40" y="417.00" font-size="12" text-anchor="middle" fill="#111" class="k">55</text>
<line x1="616.50" x2="616.50" y1="388.9" y2="402.6" stroke="#2f3a3a" stroke-width="1.05"/>
<text x="617.90" y="417.00" font-size="12" text-anchor="middle" fill="#111" class="k">60</text>
<line x1="646.50" x2="646.50" y1="388.9" y2="402.6" stroke="#2f3a3a" stroke-width="1.05"/>
<text x="648.40" y="417.00" font-size="12" text-anchor="middle" fill="#111" class="k">65</text>
<line x1="676.50" x2="676.50" y1="388.9" y2="402.6" stroke="#2f3a3a" stroke-width="1.05"/>
<text x="678.90" y="417.00" font-size="12" text-anchor="middle" fill="#111" class="k">70</text>
<text x="542.50" y="439.70" font-size="11.8" font-style="italic" text-anchor="middle" fill="#111" class="k">Time [s]</text>
<text transform="translate(389.30,308.30) rotate(-90)" font-size="12.0" font-style="italic" text-anchor="middle" fill="#111" class="k">Fluorescence</text>
<text x="483.5" y="270.8" font-size="17" fill="#000" class="k">Control</text>
<text x="209.9" y="45.2" font-size="13.5" fill="#000" class="k">28 S</text>
<text x="151.0" y="75.8" font-size="13.5" fill="#000" class="k">18 S</text>
<line x1="228.9" y1="51.4" x2="300.81" y2="74.33" stroke="#000" stroke-width="1.15"/><path d="M307.0,76.3 L299.90,77.18 L301.72,71.47 Z" fill="#000"/>
<line x1="182.2" y1="74.3" x2="294.58" y2="92.46" stroke="#000" stroke-width="1.15"/><path d="M301.0,93.5 L294.10,95.42 L295.06,89.50 Z" fill="#000"/>
</svg>
</body></html>
